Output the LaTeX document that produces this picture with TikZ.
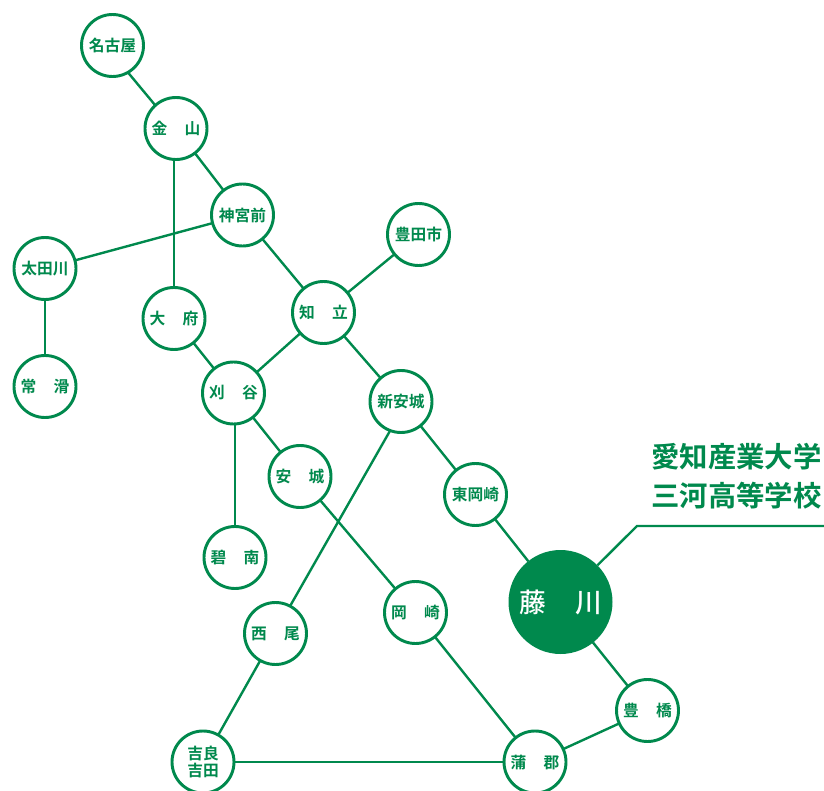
\documentclass[tikz,border=0pt]{standalone}
\usepackage{fontspec}
\usetikzlibrary{backgrounds}
\setmainfont{Noto Sans CJK JP}[BoldFont={Noto Sans CJK JP Bold}]
\newfontfamily\medfont{Noto Sans CJK JP Medium}
\definecolor{grn}{HTML}{00894D}
\tikzset{
 st/.style={circle,draw=grn,line width=2.2pt,fill=white,minimum size=46.5pt,inner sep=0pt,outer sep=0pt,text=grn,font=\fontsize{11.8pt}{12.2pt}\selectfont\bfseries,align=center},
 hub/.style={circle,fill=grn,minimum size=78pt,inner sep=0pt,outer sep=0pt,text=white,font=\fontsize{20pt}{22pt}\medfont},
 ln/.style={draw=grn,line width=1.8pt},
 ttl/.style={text=grn,font=\fontsize{21.3pt}{25pt}\selectfont\bfseries,inner sep=0pt}
}
\newcommand{\gp}{\hspace{1.1em}}
\begin{document}
\begin{tikzpicture}[x=0.75pt,y=-0.75pt]
\useasboundingbox (0,0) rectangle (824,791);
\coordinate (c1) at (637,526);
\coordinate (c2) at (824,526);
\node[st] (nagoya) at (112.5,45.5) {名古屋};
\node[st] (kanayama) at (176,128.5) {金\gp 山};
\node[st] (jingu) at (242.5,215) {神宮前};
\node[st] (toyotashi) at (418.5,234.5) {豊田市};
\node[st] (otagawa) at (45,268.5) {太田川};
\node[st] (chiryu) at (323.5,312.5) {知\gp 立};
\node[st] (obu) at (174,318.5) {大\gp 府};
\node[st] (tokoname) at (45,386.5) {常\gp 滑};
\node[st] (kariya) at (233.5,393) {刈\gp 谷};
\node[st] (shinanjo) at (401,401.5) {新安城};
\node[st] (anjo) at (300,476.5) {安\gp 城};
\node[st] (higashi) at (475.5,494.5) {東岡崎};
\node[st] (hekinan) at (235,557.5) {碧\gp 南};
\node[hub] (fuji) at (560.5,602) {藤\hspace{1.1em}川};
\node[st] (okazaki) at (415.5,612.5) {岡\gp 崎};
\node[st] (nishio) at (275.5,633.5) {西\gp 尾};
\node[st] (toyohashi) at (647.5,710.5) {豊\gp 橋};
\node[st] (kira) at (203,762) {吉良\\吉田};
\node[st] (gamagori) at (535,762) {蒲\gp 郡};
\begin{scope}[on background layer]
\draw[ln] ([xshift=-5.2pt]nagoya.center)--([xshift=-1.1pt]kanayama.center);
\draw[ln] ([xshift=4.3pt]shinanjo.center)--([xshift=-0.8pt]nishio.center);
\end{scope}
\draw[ln] (kanayama)--(jingu);
\draw[ln] (kanayama.south -| obu.north)--(obu.north);
\draw[ln] (jingu)--(otagawa);
\draw[ln] (jingu)--(chiryu);
\draw[ln] (toyotashi)--(chiryu);
\draw[ln] (otagawa)--(tokoname);
\draw[ln] (obu)--(kariya);
\draw[ln] (chiryu)--(kariya);
\draw[ln] (chiryu)--(shinanjo);
\draw[ln] (kariya)--(anjo);
\draw[ln] (kariya.south -| hekinan.north)--(hekinan.north);
\draw[ln] (anjo)--(okazaki);
\draw[ln] (shinanjo)--(higashi);
\draw[ln] (higashi)--(fuji);
\draw[ln] (nishio)--(kira);
\draw[ln] (kira)--(gamagori);
\draw[ln] (okazaki)--(gamagori);
\draw[ln] (gamagori)--(toyohashi);
\draw[ln] (toyohashi)--(fuji);
\draw[ln] (fuji)--(c1)--(c2);
\node[ttl,anchor=west] (t1) at (651,457) {愛知産業大学};
\node[ttl,anchor=west] (t2) at (651,496) {三河高等学校};
\end{tikzpicture}
\end{document}
